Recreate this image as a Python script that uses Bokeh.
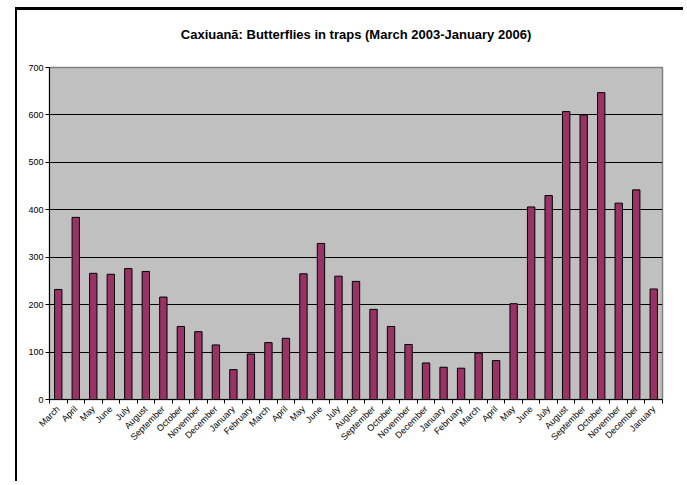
import math
from bokeh.plotting import figure
from bokeh.models import FixedTicker, LinearAxis, Range1d, Grid, Title
from bokeh.embed import file_html
from bokeh.resources import INLINE

title_text = "Caxiuanã: Butterflies in traps (March 2003-January 2006)"

months = ["March", "April", "May", "June", "July", "August", "September",
          "October", "November", "December", "January", "February",
          "March", "April", "May", "June", "July", "August", "September",
          "October", "November", "December", "January", "February",
          "March", "April", "May", "June", "July", "August", "September",
          "October", "November", "December", "January"]

butterflies = [232, 384, 266, 264, 276, 270, 216, 154, 143, 115, 63, 96,
               120, 129, 265, 329, 260, 249, 190, 154, 116, 77, 68, 66,
               98, 82, 202, 406, 430, 607, 600, 647, 414, 442, 233]

y_ticks = [0, 100, 200, 300, 400, 500, 600, 700]

positions = list(range(len(months)))
FONT = "Liberation Sans"
W, H = 668, 474

p = figure(width=W, height=H, output_backend="svg", toolbar_location=None,
           x_range=Range1d(-0.5, len(months) - 0.5), y_range=Range1d(0, 700),
           min_border_left=32, min_border_right=23, min_border_top=57,
           min_border_bottom=85, x_axis_type=None, y_axis_type=None,
           margin=(7, 0, 0, 15))
p.styles = {"border-top": "3px solid black", "border-left": "2px solid black"}

p.background_fill_color = "#C0C0C0"
p.border_fill_color = "white"
p.outline_line_color = "#808080"
p.outline_line_width = 1.5

p.add_layout(Grid(dimension=1, ticker=FixedTicker(ticks=y_ticks),
                  grid_line_color="black", grid_line_width=1))

p.vbar(x=positions, top=butterflies, width=0.42, fill_color="#993366",
       line_color="black", line_width=1)

# blank spacer (white tick on white) between plot frame and title
spacer = LinearAxis(ticker=FixedTicker(ticks=[-0.5]))
spacer.axis_line_color = None
spacer.major_tick_line_color = "white"
spacer.minor_tick_line_color = None
spacer.major_tick_out = 26
spacer.major_tick_in = 0
spacer.major_label_standoff = 0
spacer.major_label_text_font_size = "1px"
spacer.major_label_text_color = None
p.add_layout(spacer, "above")

p.add_layout(Title(text=title_text, align="center", text_font=FONT,
                   text_font_size="13px", text_font_style="bold",
                   text_color="black", standoff=0), "above")

yaxis = LinearAxis(ticker=FixedTicker(ticks=y_ticks))
yaxis.axis_line_color = "black"
yaxis.major_tick_line_color = "black"
yaxis.major_tick_out = 4
yaxis.major_tick_in = 0
yaxis.minor_tick_line_color = None
yaxis.major_label_text_font = FONT
yaxis.major_label_text_font_size = "9px"
yaxis.major_label_text_color = "black"
yaxis.major_label_standoff = 2
p.add_layout(yaxis, "left")

tick_axis = LinearAxis(ticker=FixedTicker(ticks=[i - 0.5 for i in range(len(months) + 1)]))
tick_axis.axis_line_color = "black"
tick_axis.major_tick_line_color = "black"
tick_axis.major_tick_out = 4
tick_axis.major_tick_in = 0
tick_axis.minor_tick_line_color = None
tick_axis.major_label_text_font_size = "1px"
tick_axis.major_label_text_color = None
tick_axis.major_label_standoff = 0
p.add_layout(tick_axis, "below")

label_axis = LinearAxis(ticker=FixedTicker(ticks=positions),
                        major_label_overrides={i: m for i, m in enumerate(months)})
label_axis.axis_line_color = None
label_axis.major_tick_line_color = None
label_axis.minor_tick_line_color = None
label_axis.major_tick_out = 0
label_axis.major_tick_in = 0
label_axis.major_label_orientation = math.pi / 4
label_axis.major_label_text_font = FONT
label_axis.major_label_text_font_size = "9px"
label_axis.major_label_text_color = "black"
label_axis.major_label_standoff = 4
p.add_layout(label_axis, "below")

open("out.html", "w").write(file_html(p, INLINE))
